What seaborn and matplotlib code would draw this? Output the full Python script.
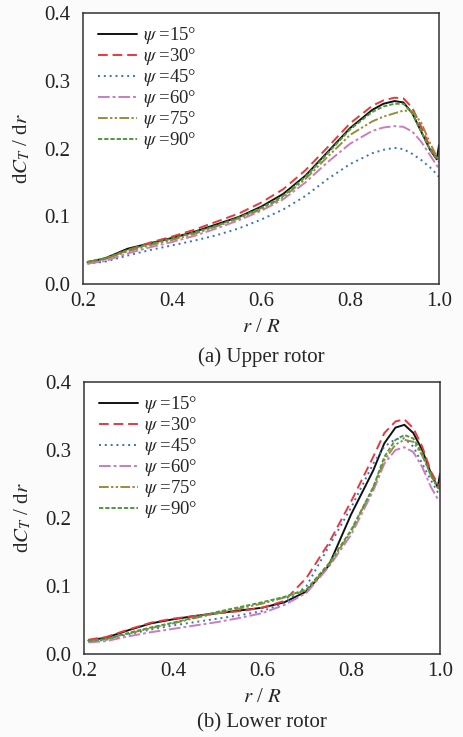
import numpy as np
import pandas as pd
import matplotlib
matplotlib.use("Agg")
import matplotlib.pyplot as plt
import seaborn as sns

sns.set_theme(style="white")
plt.rcParams['font.family'] = ['Liberation Serif', 'DejaVu Serif']
plt.rcParams['mathtext.fontset'] = 'stix'

r_R = [0.21, 0.25, 0.3, 0.35, 0.4, 0.45, 0.5, 0.55, 0.6, 0.65, 0.7, 0.75, 0.8,
       0.85, 0.875, 0.9, 0.92, 0.94, 0.96, 0.98, 0.995, 1.0]
psi_labels = ["15", "30", "45", "60", "75", "90"]

upper_15 = [0.032,0.038,0.052,0.060,0.068,0.077,0.088,0.099,0.114,0.133,0.160,0.195,0.230,0.257,0.266,0.270,0.268,0.252,0.225,0.198,0.184,0.205]
upper_30 = [0.032,0.037,0.050,0.061,0.070,0.080,0.092,0.104,0.120,0.140,0.168,0.202,0.237,0.263,0.271,0.275,0.274,0.260,0.232,0.202,0.185,0.180]
upper_45 = [0.030,0.033,0.042,0.050,0.057,0.064,0.072,0.082,0.095,0.110,0.130,0.155,0.177,0.193,0.198,0.201,0.199,0.192,0.183,0.172,0.162,0.158]
upper_60 = [0.030,0.034,0.045,0.054,0.062,0.071,0.082,0.094,0.108,0.125,0.150,0.180,0.207,0.226,0.231,0.233,0.232,0.225,0.210,0.190,0.175,0.170]
upper_75 = [0.032,0.037,0.048,0.057,0.065,0.074,0.085,0.097,0.110,0.128,0.155,0.188,0.220,0.240,0.247,0.252,0.256,0.255,0.238,0.208,0.188,0.180]
upper_90 = [0.033,0.038,0.050,0.059,0.067,0.076,0.086,0.098,0.112,0.130,0.158,0.193,0.228,0.254,0.262,0.266,0.266,0.252,0.225,0.198,0.185,0.185]

lower_15 = [0.020,0.024,0.035,0.045,0.051,0.056,0.060,0.064,0.068,0.076,0.092,0.130,0.205,0.270,0.310,0.333,0.337,0.325,0.300,0.265,0.245,0.265]
lower_30 = [0.021,0.025,0.036,0.046,0.052,0.056,0.060,0.063,0.068,0.078,0.112,0.163,0.224,0.290,0.325,0.342,0.345,0.332,0.305,0.268,0.250,0.245]
lower_45 = [0.018,0.021,0.029,0.036,0.042,0.047,0.052,0.057,0.063,0.075,0.100,0.158,0.215,0.280,0.305,0.316,0.317,0.305,0.280,0.255,0.238,0.235]
lower_60 = [0.017,0.019,0.026,0.032,0.037,0.042,0.047,0.053,0.060,0.072,0.090,0.128,0.175,0.240,0.280,0.300,0.304,0.297,0.275,0.245,0.228,0.225]
lower_75 = [0.019,0.022,0.030,0.038,0.045,0.053,0.060,0.067,0.074,0.083,0.094,0.130,0.180,0.245,0.285,0.308,0.315,0.312,0.292,0.262,0.245,0.240]
lower_90 = [0.019,0.022,0.031,0.039,0.046,0.054,0.062,0.069,0.076,0.084,0.095,0.133,0.182,0.245,0.290,0.315,0.322,0.317,0.295,0.262,0.245,0.242]

upper = [upper_15, upper_30, upper_45, upper_60, upper_75, upper_90]
lower = [lower_15, lower_30, lower_45, lower_60, lower_75, lower_90]

colors = ["#111111", "#e8383d", "#3b6fc2", "#c87dbf", "#9c8a3c", "#4f9a3e"]
styles = ["-", (0, (5, 2.5)), (0, (1, 2)), (0, (6, 1.5, 1.5, 1.5)),
          (0, (5, 1.2, 1.2, 1.2, 1.2, 1.2)), (0, (2.2, 1))]

fig = plt.figure(figsize=(4.63, 7.37), dpi=100, facecolor="#fbfbfb")
ax1 = fig.add_axes([83/463, 1 - 284/737, 356/463, 271/737])
ax2 = fig.add_axes([84/463, 1 - 654/737, 356/463, 272/737])

def draw(ax, series, caption, cap_y):
    for vals, c, ls, p in zip(series, colors, styles, psi_labels):
        df = pd.DataFrame({"x": r_R, "y": vals})
        sns.lineplot(data=df, x="x", y="y", ax=ax, color=c, linestyle=ls,
                     linewidth=1.4, label=r"$\psi$ =" + p + "°")
    ax.set_xlim(0.2, 1.0)
    ax.set_ylim(0, 0.4)
    ax.set_xticks([0.2, 0.4, 0.6, 0.8, 1.0])
    ax.set_yticks([0.0, 0.1, 0.2, 0.3, 0.4])
    ax.set_xticklabels(["0.2", "0.4", "0.6", "0.8", "1.0"])
    ax.set_yticklabels(["0.0", "0.1", "0.2", "0.3", "0.4"])
    ax.tick_params(labelsize=15, direction="in", length=4, width=1,
                   colors="#222222")
    ax.tick_params(axis="y", pad=9)
    ax.tick_params(axis="x", pad=6)
    for s in ax.spines.values():
        s.set_color("#333333")
        s.set_linewidth(1.1)
    ax.set_xlabel(r"$r$ / $R$", fontsize=15)
    ax.set_ylabel(r"d$C_T$ / d$r$", fontsize=15)
    ax.xaxis.set_label_coords(0.5, -0.125)
    ax.yaxis.set_label_coords(-0.143, 0.5)
    ax.set_facecolor("white")
    ax.legend(loc="upper left", frameon=False, fontsize=13.5,
              handlelength=2.1, labelspacing=0.0, handletextpad=0.3,
              borderaxespad=0.0, borderpad=0.0,
              bbox_to_anchor=(0.042, 0.955))
    ax.text(0.5, cap_y, caption, transform=ax.transAxes, ha="center",
            va="center", fontsize=15)

draw(ax1, upper, "(a) Upper rotor", -0.269)
draw(ax2, lower, "(b) Lower rotor", -0.254)

fig.savefig("out.png", dpi=100, facecolor=fig.get_facecolor())
